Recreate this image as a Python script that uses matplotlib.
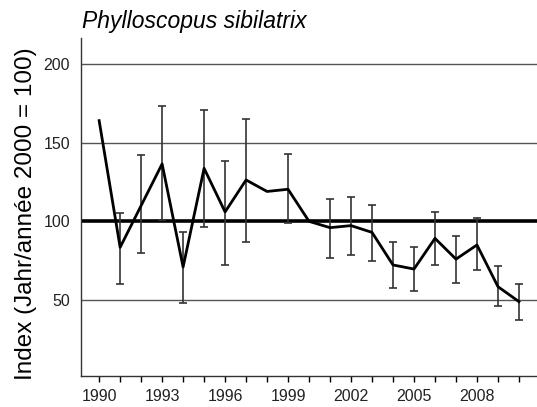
import numpy as np
import matplotlib.pyplot as plt

# yearly index values (2000 = 100) with lower / upper confidence limits
years = list(range(1990, 2011))
index = [164, 83.5, 110, 136.5, 71, 133.7, 106, 126.3, 119, 120.4, 100,
         96, 97.3, 93, 72.3, 69.7, 89.2, 76, 85, 58.5, 49]
lower = [None, 60, 80, 101, 48, 96.6, 72, 87, None, 98.8, None,
         77, 78.6, 75, 57.8, 56, 72.3, 60.6, 69, 46.4, 37.3]
upper = [None, 105.5, 142, 173, 93.5, 171, 138.6, 165, None, 143, None,
         114, 115.3, 110.4, 87, 84, 106, 91, 102, 71.6, 60]

title = 'Phylloscopus sibilatrix'
ylabel = 'Index (Jahr/année 2000 = 100)'
xtick_labels = [1990, 1993, 1996, 1999, 2002, 2005, 2008]
ytick_labels = [50, 100, 150, 200]

plt.rcParams['font.family'] = ['Liberation Sans', 'DejaVu Sans']

fig = plt.figure(figsize=(5.37, 4.07), dpi=100)
ax = fig.add_axes([0.151, 0.076, 0.849, 0.831])

# horizontal reference lines
for v in ytick_labels:
    if v == 100:
        ax.axhline(v, color='black', lw=2.6, zorder=1)
    else:
        ax.axhline(v, color='#555555', lw=1.0, zorder=1)

yrs = np.array(years, dtype=float)
idx = np.array(index, dtype=float)
lo = np.array([np.nan if v is None else v for v in lower])
hi = np.array([np.nan if v is None else v for v in upper])
has_ci = ~np.isnan(lo)

ax.errorbar(yrs[has_ci], idx[has_ci],
            yerr=[idx[has_ci] - lo[has_ci], hi[has_ci] - idx[has_ci]],
            fmt='none', ecolor='#333333', elinewidth=1.2, capsize=3, capthick=1.2,
            zorder=2)
ax.plot(yrs, idx, color='black', lw=2.0, zorder=3)

ax.set_xlim(1989.14, 2010.86)
ax.set_ylim(1.7, 216.6)
ax.set_xticks(years)
ax.set_xticklabels([str(y) if y in xtick_labels else '' for y in years])
ax.set_yticks(ytick_labels)
ax.tick_params(axis='x', direction='out', length=4, width=1, colors='black',
               labelsize=11.5, pad=5, labelcolor='#222222')
ax.tick_params(axis='y', length=0, labelsize=11.5, pad=8, labelcolor='#222222')

for s in ('top', 'right'):
    ax.spines[s].set_visible(False)
for s in ('left', 'bottom'):
    ax.spines[s].set_color('#333333')
    ax.spines[s].set_linewidth(1.0)

ax.set_ylabel(ylabel, fontsize=17.5)
ax.yaxis.set_label_coords(-0.097, 0.48)
fig.text(0.153, 0.948, title, fontsize=16.5, style='italic', va='center', ha='left')

fig.savefig('out.png', dpi=100)
